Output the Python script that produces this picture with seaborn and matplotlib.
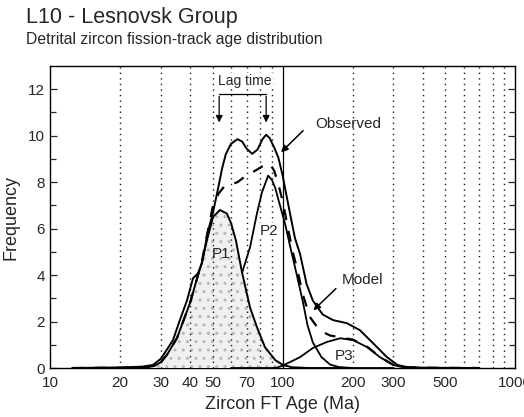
import numpy as np
import pandas as pd
import matplotlib
matplotlib.use('Agg')
import matplotlib.pyplot as plt
import seaborn as sns

# values (age in Ma, frequency)
obs_age = [12.5, 20, 25, 27.7, 30, 33.8, 36, 38.8, 41.2, 43.3, 45, 47.8, 50, 52.5, 55, 57, 60, 64, 67,
           70, 74, 78, 82, 85, 88, 92, 96, 100, 106, 113, 119, 127, 135, 149, 165, 189, 215, 245,
           281, 312, 343, 400, 700]
obs_freq = [0, 0.02, 0.06, 0.13, 0.4, 1.2, 2.0, 2.9, 3.86, 4.08, 4.5, 5.9, 6.6, 7.6, 8.6, 9.2, 9.65, 9.85, 9.75,
            9.45, 9.22, 9.4, 9.85, 10.04, 9.9, 9.5, 9.05, 8.3, 7.0, 5.6, 4.9, 3.6, 2.9, 2.3, 2.06, 1.93, 1.63, 1.07,
            0.47, 0.13, 0.04, 0.01, 0]

model_age = [12.5, 20, 25, 28, 30, 32, 35.2, 38, 40, 43.3, 45, 47.3, 50, 53, 56, 60, 64, 68, 72, 78, 84, 88,
             92, 96, 100, 105.6, 110, 116.6, 122, 131, 140, 149, 160, 177, 201, 231, 262, 299, 330, 400, 700]
model_freq = [0, 0.01, 0.03, 0.08, 0.25, 0.6, 1.3, 2.2, 2.8, 4.0, 4.6, 5.7, 6.9, 7.5, 7.8, 7.9, 8.0, 8.2, 8.35,
              8.55, 8.75, 8.8, 8.5, 7.9, 7.2, 6.0, 5.1, 4.1, 3.2, 2.2, 1.8, 1.55, 1.4, 1.32, 1.22, 0.92, 0.48,
              0.14, 0.04, 0.01, 0]

p1_age = [12.5, 20, 25, 28, 30, 32, 35.2, 38, 40, 43.3, 45, 47.3, 50.2, 53.8, 57.6, 60, 63, 67, 72.5, 77.6,
          84, 93, 100.5, 110, 130, 200]
p1_freq = [0, 0.01, 0.03, 0.08, 0.25, 0.6, 1.3, 2.2, 2.8, 4.0, 4.55, 5.5, 6.5, 6.8, 6.65, 6.25, 5.5, 4.1, 2.6,
           1.76, 0.9, 0.34, 0.13, 0.03, 0, 0]

p2_age = [12.5, 30, 40, 45, 50, 55, 58, 62, 64, 67, 72.5, 77.6, 81.5, 86.7, 90, 93, 97.5, 102.6, 108, 114.6,
          122.6, 128, 135, 147, 160, 175, 200, 300]
p2_freq = [0, 0, 0.05, 0.15, 0.45, 0.9, 1.25, 2.0, 2.7, 4.1, 5.2, 6.65, 7.55, 8.28, 8.1, 7.75, 7.0, 6.2, 5.2,
           4.1, 2.8, 1.85, 1.1, 0.47, 0.15, 0.04, 0, 0]

p3_age = [60, 90, 95, 100, 110, 119, 135, 155, 177, 201, 231, 262, 299, 330, 400, 700]
p3_freq = [0, 0, 0.02, 0.1, 0.3, 0.47, 0.86, 1.12, 1.28, 1.2, 0.9, 0.47, 0.13, 0.03, 0.01, 0]

xtick_vals = [10, 20, 30, 40, 50, 70, 100, 200, 300, 500, 1000]
grid_ages = [20, 30, 40, 50, 60, 70, 80, 90, 200, 300, 400, 500, 600, 700, 800, 900]

sns.set_style('ticks')
plt.rcParams['font.family'] = ['Liberation Sans', 'DejaVu Sans']

fig = plt.figure(figsize=(5.24, 4.17), dpi=100)
ax = fig.add_axes([0.0954, 0.1175, 0.8876, 0.7242])
ax.set_xscale('log')

for g in grid_ages:
    ax.axvline(g, color='0.1', lw=1.0, ls=(0, (1, 3)), zorder=3.5)
ax.axvline(100, color='black', lw=0.9, zorder=3.5)

# P1 stippled fill, drawn over the hidden part of P2
sns.lineplot(x=p2_age, y=p2_freq, ax=ax, color='black', lw=1.3, zorder=2.5)
ax.fill_between(p1_age, p1_freq, 0, facecolor='0.94', edgecolor='0.72', hatch='..', lw=0, zorder=3)

sns.lineplot(x=p1_age, y=p1_freq, ax=ax, color='black', lw=1.4, zorder=4)
sns.lineplot(x=p3_age, y=p3_freq, ax=ax, color='black', lw=1.3, zorder=4)
sns.lineplot(x=model_age, y=model_freq, ax=ax, color='black', lw=1.6, ls=(0, (5, 5)), zorder=4)
sns.lineplot(x=obs_age, y=obs_freq, ax=ax, color='black', lw=1.4, zorder=4)

ax.set_xlim(10, 1000)
ax.set_ylim(0, 13)
ax.set_xticks(xtick_vals)
ax.set_xticklabels([str(v) for v in xtick_vals])
ax.xaxis.set_minor_locator(matplotlib.ticker.NullLocator())
ax.set_yticks(range(0, 13, 2))
ax.set_yticks(range(1, 13, 2), minor=True)
ax.tick_params(axis='y', which='both', direction='in', right=True, labelsize=11, width=0.9)
ax.tick_params(axis='y', which='major', length=5)
ax.tick_params(axis='y', which='minor', length=4)
ax.tick_params(axis='x', length=0, labelsize=11, pad=6)
for s in ax.spines.values():
    s.set_linewidth(1.0)
    s.set_color('black')

ax.set_xlabel('Zircon FT Age (Ma)', fontsize=13, labelpad=4)
ax.set_ylabel('Frequency', fontsize=13, labelpad=6)

# annotations
white = dict(facecolor='white', edgecolor='none', pad=0.5)
ax.text(69, 12.35, 'Lag time', ha='center', va='center', fontsize=10, zorder=5, bbox=white)
ax.plot([53.4, 85], [11.8, 11.8], color='black', lw=0.9)
for a in (53.4, 85):
    ax.annotate('', xy=(a, 10.45), xytext=(a, 11.82),
                arrowprops=dict(arrowstyle='-|>', color='black', lw=0.9, mutation_scale=10))
ax.text(138, 10.5, 'Observed', ha='left', va='center', fontsize=11)
ax.annotate('', xy=(96.6, 9.2), xytext=(125, 10.3),
            arrowprops=dict(arrowstyle='-|>', color='black', lw=1.1, mutation_scale=10))
ax.text(180, 3.78, 'Model', ha='left', va='center', fontsize=11)
ax.annotate('', xy=(133, 2.4), xytext=(173, 3.5),
            arrowprops=dict(arrowstyle='-|>', color='black', lw=1.1, mutation_scale=10))
ax.text(54.4, 4.9, 'P1', ha='center', va='center', fontsize=11, zorder=5)
ax.text(87.5, 5.9, 'P2', ha='center', va='center', fontsize=11, zorder=5, bbox=white)
ax.text(184, 0.5, 'P3', ha='center', va='center', fontsize=11, zorder=5)

fig.text(0.05, 0.958, 'L10 - Lesnovsk Group', fontsize=15.5, ha='left', va='center')
fig.text(0.05, 0.905, 'Detrital zircon fission-track age distribution', fontsize=11.3, ha='left', va='center')

fig.savefig('out.png', dpi=100)
